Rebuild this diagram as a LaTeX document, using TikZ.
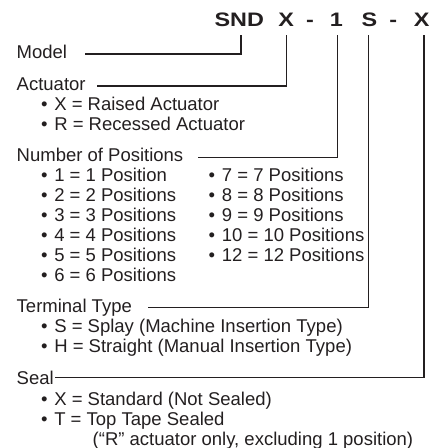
\documentclass[tikz,border=0pt]{standalone}
\usepackage{fontspec}
\setmainfont{Liberation Sans}
\definecolor{ink}{HTML}{231F20}
\newcommand{\bitem}{\makebox[15pt][l]{\makebox[10pt]{•}}}
\begin{document}
\begin{tikzpicture}[x=1pt,y=-1pt,
  every node/.style={inner sep=0pt,outer sep=0pt,text=ink},
  body/.style={font=\fontsize{18.5}{20}\selectfont,anchor=base west},
  ttl/.style={font=\fontsize{19.5}{20}\selectfont\bfseries,anchor=base},
  conn/.style={draw=ink,line width=1.1pt}]
\useasboundingbox (0,0) rectangle (444,448);
% title
\node[ttl] (tSND) at (239.3,26.7) {\scalebox{1.2}[1]{SND}};
\node[ttl] (tA) at (286.2,26.7) {\scalebox{1.2}[1]{X}};
\node[ttl] (d1) at (310,26.7) {\scalebox{1.2}[1]{-}};
\node[ttl] (tP) at (336.4,26.7) {\scalebox{1.2}[1]{1}};
\node[ttl] (tT) at (369.5,26.7) {\scalebox{1.2}[1]{S}};
\node[ttl] (d2) at (393.3,26.7) {\scalebox{1.2}[1]{-}};
\node[ttl] (tS) at (421.7,26.7) {\scalebox{1.2}[1]{X}};
% headers
\node[body] (hModel) at (16.7,58.3) {Model};
\node[body] (hAct) at (16.7,90.3) {Actuator};
\node[body] (hNum) at (16.7,161.7) {Number of Positions};
\node[body] (hTerm) at (16.7,312.8) {Terminal Type};
\node[body] (hSeal) at (16.7,384) {Seal};
% actuator items
\node[body] (i1) at (39.3,110.7) {\bitem X = Raised Actuator};
\node[body] (i2) at (39.3,130.4) {\bitem R = Recessed Actuator};
% positions
\node[body] (p1) at (39.3,181.7) {\bitem 1 = 1 Position};
\node[body] (p2) at (39.3,201.7) {\bitem 2 = 2 Positions};
\node[body] (p3) at (39.3,221.7) {\bitem 3 = 3 Positions};
\node[body] (p4) at (39.3,241.7) {\bitem 4 = 4 Positions};
\node[body] (p5) at (39.3,261.7) {\bitem 5 = 5 Positions};
\node[body] (p6) at (39.3,281.7) {\bitem 6 = 6 Positions};
\node[body] (p7) at (206.9,181.7) {\bitem 7 = 7 Positions};
\node[body] (p8) at (206.9,201.7) {\bitem 8 = 8 Positions};
\node[body] (p9) at (206.9,221.7) {\bitem 9 = 9 Positions};
\node[body] (p10) at (206.9,241.7) {\bitem 10 = 10 Positions};
\node[body] (p12) at (206.9,261.7) {\bitem 12 = 12 Positions};
% terminal
\node[body] (s1) at (39.3,332.7) {\bitem S = Splay (Machine Insertion Type)};
\node[body] (s2) at (39.3,352.7) {\bitem H = Straight (Manual Insertion Type)};
% seal
\node[body] (e1) at (39.3,405) {\bitem X = Standard (Not Sealed)};
\node[body] (e2) at (39.3,425) {\bitem T = Top Tape Sealed};
\node[body] (e3) at (92.7,445) {(“R” actuator only, excluding 1 position)};
% connector coordinates
\coordinate (cM) at (241,35);
\coordinate (eM) at (85,54);
\coordinate (cA) at (286.8,35);
\coordinate (eA) at (96.7,86);
\coordinate (cP) at (337.5,35);
\coordinate (eP) at (198.3,157.3);
\coordinate (cT) at (368.6,35);
\coordinate (eT) at (148,307.7);
\coordinate (cS) at (424,35);
\coordinate (eS) at (55,377.3);
\draw[conn] (cM) |- (eM);
\draw[conn] (cA) |- (eA);
\draw[conn] (cP) |- (eP);
\draw[conn] (cT) |- (eT);
\draw[conn] (cS) |- (eS);
\end{tikzpicture}
\end{document}
